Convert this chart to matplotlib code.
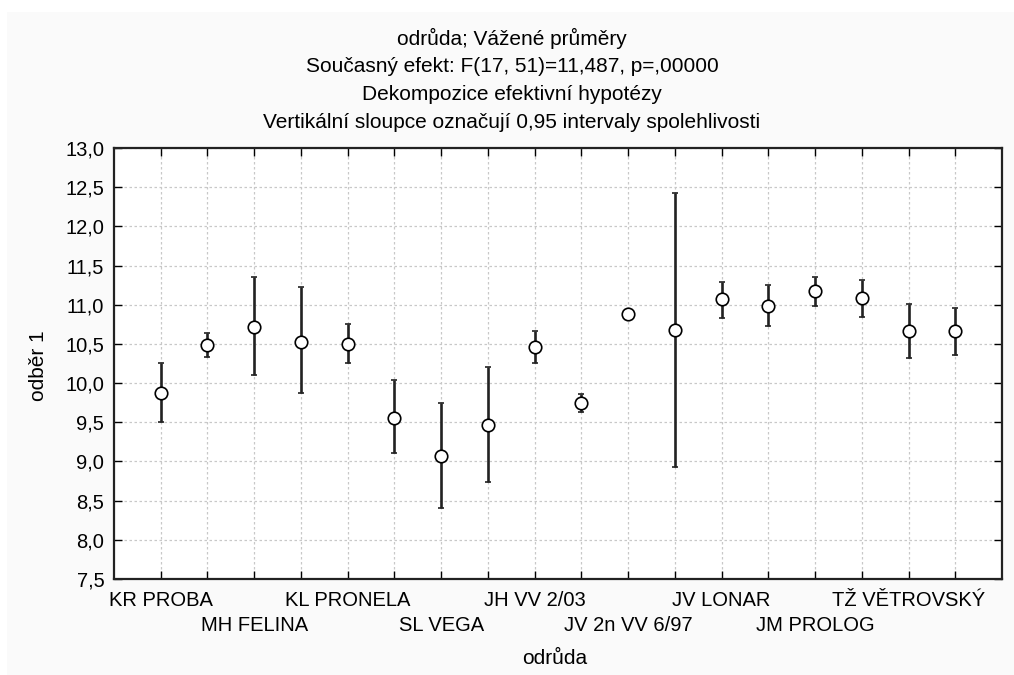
import matplotlib
matplotlib.use("Agg")
import matplotlib.pyplot as plt
from matplotlib.patches import Rectangle
from matplotlib.ticker import MultipleLocator, FuncFormatter

plt.rcParams['font.family'] = ['Liberation Sans', 'DejaVu Sans']

categories = ["KR PROBA", "", "MH FELINA", "", "KL PRONELA", "", "SL VEGA", "",
              "JH VV 2/03", "", "JV 2n VV 6/97", "", "JV LONAR", "", "JM PROLOG", "",
              "TŽ VĚTROVSKÝ", ""]
means = [9.87, 10.48, 10.71, 10.53, 10.50, 9.56, 9.07, 9.47, 10.46, 9.74,
         10.88, 10.68, 11.07, 10.99, 11.17, 11.08, 10.66, 10.66]
upper = [10.26, 10.64, 11.36, 11.22, 10.75, 10.04, 9.74, 10.21, 10.67, 9.86,
         10.88, 12.43, 11.29, 11.25, 11.36, 11.32, 11.01, 10.96]
lower = [9.50, 10.33, 10.10, 9.87, 10.26, 9.11, 8.40, 8.74, 10.26, 9.63,
         10.88, 8.93, 10.83, 10.73, 10.99, 10.84, 10.32, 10.36]

titles = ["odrůda; Vážené průměry",
          "Současný efekt: F(17, 51)=11,487, p=,00000",
          "Dekompozice efektivní hypotézy",
          "Vertikální sloupce označují 0,95 intervaly spolehlivosti"]

W, H = 1014, 675
fig = plt.figure(figsize=(W / 100, H / 100), dpi=100, facecolor='white')
fig.patches.append(Rectangle((7 / W, 0), 1 - 7 / W, 1 - 12 / H, transform=fig.transFigure,
                             facecolor='#fafafa', edgecolor='none', zorder=-10))

ax = fig.add_axes([114 / W, 1 - 579 / H, (1002 - 114) / W, (579 - 148) / H])
ax.set_facecolor('white')

x = list(range(1, len(means) + 1))
yerr = [[m - l for m, l in zip(means, lower)], [u - m for m, u in zip(means, upper)]]
ax.errorbar(x, means, yerr=yerr, fmt='o', color='black', ecolor='#222222',
            elinewidth=1.9, capsize=2.3, capthick=1.9, markersize=9,
            markerfacecolor='white', markeredgecolor='black', markeredgewidth=1.2,
            zorder=3)

ax.set_xlim(0, len(means) + 1)
ax.set_ylim(7.5, 13.0)
ax.yaxis.set_major_locator(MultipleLocator(0.5))
ax.yaxis.set_major_formatter(FuncFormatter(lambda v, p: f"{v:.1f}".replace('.', ',')))
ax.set_xticks(x)
ax.set_xticklabels([""] * len(x))
for i, lab in enumerate(categories):
    if lab:
        row = (i // 2) % 2
        ax.annotate(lab, xy=(x[i], 0), xycoords=('data', 'axes fraction'),
                    xytext=(0, -12 - 25 * row), textcoords='offset pixels',
                    ha='center', va='top', fontsize=14.5)

ax.tick_params(axis='both', direction='in', top=True, right=True, length=6, width=1,
               labelsize=14.5, colors='black')
ax.tick_params(axis='y', pad=7)
ax.grid(True, color='#c8c8c8', linestyle=(0, (2, 2)), linewidth=0.9)
ax.set_axisbelow(True)
for s in ax.spines.values():
    s.set_linewidth(1.6)
    s.set_color('#222222')

fig.text(38 / W, 1 - 366 / H, "odběr 1", ha='center', va='center', rotation=90, fontsize=15)
fig.text(555 / W, 1 - 658 / H, "odrůda", ha='center', va='center', fontsize=15)

for k, t in enumerate(titles):
    fig.text(512 / W, 1 - (38 + 28 * k) / H, t, ha='center', va='center', fontsize=15)

fig.savefig("out.png", dpi=100, facecolor=fig.get_facecolor())
